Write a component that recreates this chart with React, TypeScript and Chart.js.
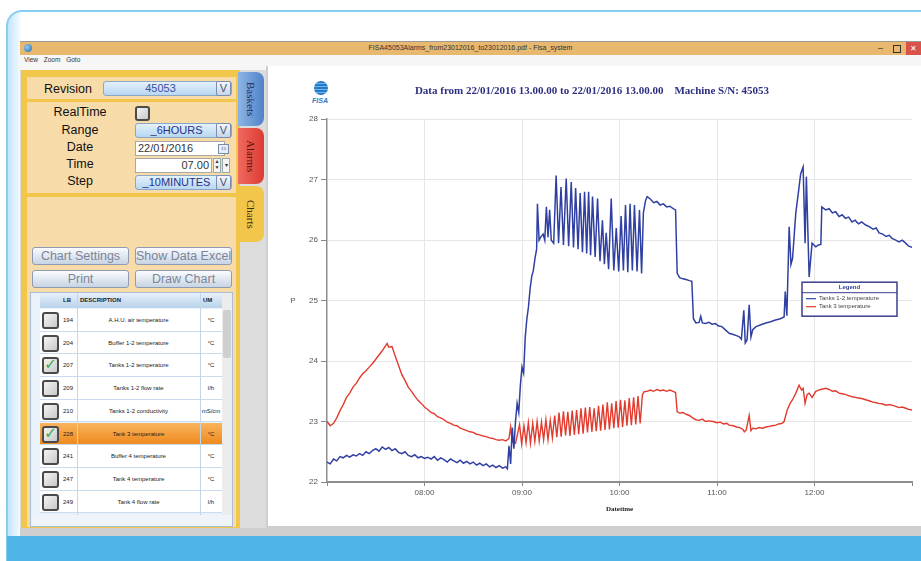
import React, { useEffect, useRef } from "react";
import { Chart, registerables } from "chart.js";

Chart.register(...registerables);

// ---------- chart data ----------
const chartTitle = "Data from 22/01/2016 13.00.00 to 22/01/2016 13.00.00    Machine S/N: 45053";
const xAxisTitle = "Datetime";
const yAxisTitle = "P";
const hourTickMinutes = [0, 60, 120, 180, 240, 300, 360];
const hourTickLabels = ["", "08:00", "09:00", "10:00", "11:00", "12:00", ""];
const yMin = 22;
const yMax = 28;
const seriesNames = ["Tanks 1-2 temperature", "Tank 3 temperature"];
const seriesColors = ["#3040a2", "#e23b2e"];

// minutes after 07:00
const tanks12Minutes = [
  0, 2, 4, 6, 8, 10, 12, 14, 16, 18, 20, 22, 24, 26, 28, 30, 32, 34, 36, 38, 40, 42, 44, 46, 48, 50,
  52, 54, 56, 58, 60, 62, 64, 66, 68, 70, 72, 74, 76, 78, 80, 82, 84, 86, 88, 90, 92, 94, 96, 98, 100,
  102, 104, 106, 108, 110,
  111, 112, 113, 114, 115, 116, 117, 118, 119, 120, 121, 122, 123, 124, 125, 126, 127, 128, 129, 129.5,
  130.5, 131.5, 133, 134, 135, 136, 137, 138, 139.5, 141, 142.5, 144, 145.5, 147.2, 148.7, 150.3, 151.7,
  153, 154.5, 155.8, 157.2, 158.5, 159.8, 161, 162.2, 163.4, 165, 166.5, 168, 169.5, 170.7, 171.8, 173.3,
  174.9, 176.5, 178, 179.5, 181, 182.4, 183.7, 185.1, 186.5, 187.9, 189.2, 190.8, 192.3, 193.6, 194.7,
  196, 197, 199, 201, 203, 205, 207, 209, 211, 213, 214.5, 215.5, 217, 219, 221, 223, 224.5, 225.5, 227,
  229, 230, 231, 233, 235, 237, 239, 241, 243, 245, 247.5, 250, 252, 253.7, 255, 256.5, 257.4, 258.5,
  259.8, 260.9, 262, 264, 267, 270, 273, 276, 279, 281.3, 282, 283, 284.4, 285.5, 286.5, 288.5, 290,
  291.5, 293, 294.2, 295, 296.7, 298.5, 300.8, 302.5, 303.9, 304.5, 306.9, 309, 311, 313, 315.1, 317,
  319, 321, 323.1, 325, 327, 329, 331.5, 334, 336, 338, 339.7, 342, 344, 346, 347.7, 350, 352, 354,
  356.1, 358, 360,
];
const tanks12Values = [
  22.33, 22.30, 22.38, 22.35, 22.42, 22.40, 22.44, 22.41, 22.45, 22.43, 22.47, 22.44, 22.50, 22.47,
  22.52, 22.55, 22.51, 22.58, 22.54, 22.57, 22.52, 22.55, 22.49, 22.47, 22.50, 22.44, 22.42, 22.45,
  22.40, 22.42, 22.39, 22.41, 22.38, 22.42, 22.36, 22.40, 22.37, 22.33, 22.38, 22.35, 22.32, 22.36,
  22.31, 22.34, 22.30, 22.33, 22.28, 22.31, 22.27, 22.30, 22.25, 22.28, 22.24, 22.27, 22.23, 22.25,
  22.22, 22.60, 22.30, 22.90, 22.55, 23.00, 23.30, 23.15, 23.60, 23.90, 23.80, 24.40, 24.70, 24.90,
  25.20, 25.40, 25.50, 25.70, 25.85, 26.60,
  26.00, 26.05, 26.10, 26.00, 26.55, 26.05, 26.50, 26.00, 25.95, 27.07, 25.95, 26.88, 25.92, 27.02,
  25.90, 26.96, 25.88, 26.86, 25.85, 26.78, 25.80, 26.80, 25.78, 26.80, 25.75, 26.72, 25.72, 26.69,
  25.65, 26.33, 25.60, 26.12, 25.52, 26.69, 25.50, 26.20, 25.48, 26.40, 25.50, 26.58, 25.47, 26.60,
  25.50, 26.58, 25.48, 26.50, 25.45, 26.45,
  26.65, 26.72, 26.68, 26.62, 26.64, 26.58, 26.60, 26.55, 26.56, 26.52, 26.50, 25.45, 25.38, 25.36,
  25.35, 25.33, 25.32, 24.70, 24.63,
  24.64, 24.74, 24.63, 24.62, 24.64, 24.61, 24.62, 24.58, 24.57, 24.52, 24.46, 24.44, 24.42, 24.40,
  24.36, 24.84, 24.30, 24.35,
  24.93, 24.40, 24.52, 24.57, 24.60, 24.63, 24.65, 24.68, 24.70, 24.73, 25.15, 24.75, 26.22, 25.60,
  25.70, 26.45, 26.77,
  27.10, 27.21, 25.95, 27.05, 25.39, 25.95, 25.89, 25.92, 25.93, 26.55, 26.50, 26.52, 26.45, 26.47,
  26.39, 26.42,
  26.36, 26.38, 26.30, 26.33, 26.27, 26.30, 26.25, 26.22, 26.18, 26.20, 26.12, 26.10, 26.06, 26.08,
  26.03, 26.00, 25.97, 26.00,
  25.95, 25.90, 25.88,
];

const tank3Minutes = [
  0, 2, 4, 6, 8, 10, 12, 14, 16, 18, 20, 22, 24, 26, 28, 30, 32, 34, 36, 37, 38, 40, 42, 44, 46, 48, 50,
  52, 54, 56, 58, 60, 62, 64, 66, 68, 70, 72, 74, 76, 78, 80, 82, 84, 86, 88, 90, 92, 94, 96, 98, 100,
  102, 104, 106, 108, 110, 112, 113, 114, 116,
  118.5, 119.8, 121.2, 122.5, 123.9, 125.2, 126.6, 127.9, 129.3, 130.6, 132, 133.3, 134.7, 136, 137.4,
  138.7, 140.1, 141.4, 142.8, 144.1, 145.5, 146.8, 148.2, 149.5, 150.9, 152.2, 153.6, 154.9, 156.3,
  157.6, 159, 160.3, 161.7, 163, 164.4, 165.7, 167.1, 168.4, 169.8, 171.1, 172.5, 173.8, 175.2, 176.5,
  177.9, 179.2, 180.6, 181.9, 183.3, 184.6, 186, 187.3, 188.7, 190, 191.4, 192.7, 194.1,
  195, 197, 199, 201, 203, 205, 207, 209, 211, 213, 214.5, 215.5, 217, 219, 221, 223, 225, 227, 229,
  231, 233, 235, 237.8, 240, 242, 244, 246, 247.5, 250, 252, 254, 256, 256.8, 258, 259.8, 260.9, 262,
  263.9, 266, 268, 270.1, 272, 274, 276.2, 278, 280, 281.3, 283.2, 285, 286.5, 288.5, 290.5, 292, 293,
  294.2, 295.5, 296.7, 298.5, 300.8, 302.5, 304, 306.9, 309, 311, 313, 315.1, 317, 319, 321, 323.1, 325,
  327, 329, 331.5, 334, 336, 338, 339.7, 342, 344, 346, 347.7, 350, 352, 354, 356.1, 358, 360,
];
const tank3Values = [
  23.00, 22.93, 22.97, 23.06, 23.18, 23.28, 23.40, 23.47, 23.57, 23.63, 23.72, 23.79, 23.84, 23.90,
  23.96, 24.03, 24.10, 24.17, 24.25, 24.29, 24.23, 24.24, 24.08, 23.93, 23.78, 23.68, 23.57,
  23.50, 23.42, 23.35, 23.30, 23.24, 23.20, 23.15, 23.13, 23.08, 23.06, 23.03, 22.99, 22.97, 22.94,
  22.93, 22.89, 22.87, 22.85, 22.83, 22.82, 22.79, 22.78, 22.76, 22.75, 22.73,
  22.72, 22.70, 22.69, 22.70, 22.68, 22.72, 22.91, 22.66, 22.64,
  22.95, 22.63, 22.93, 22.65, 22.98, 22.64, 22.97, 22.67, 23.00, 22.68, 22.99, 22.70, 23.03, 22.70,
  23.02, 22.73, 23.10, 22.74, 23.15, 22.75, 23.17, 22.77, 23.16, 22.76, 23.18, 22.78, 23.19, 22.79,
  23.22, 22.80, 23.23, 22.82, 23.24, 22.83, 23.22, 22.84, 23.26, 22.85, 23.28, 22.86, 23.32, 22.87,
  23.30, 22.89, 23.34, 22.90, 23.36, 22.91, 23.35, 22.93, 23.39, 22.94, 23.40, 22.95, 23.42, 22.97,
  23.44,
  23.49, 23.50, 23.52, 23.50, 23.53, 23.51, 23.52, 23.50, 23.52, 23.50, 23.48, 23.16, 23.14, 23.15,
  23.12, 23.10, 23.06, 23.03, 23.02,
  23.04, 23.00, 23.01, 23.00, 22.98, 22.99, 22.96, 22.97, 22.94, 22.93, 22.91, 22.90, 22.87, 22.83,
  22.86, 23.10, 22.85, 22.89,
  22.88, 22.90, 22.89, 22.91, 22.92, 22.93, 22.94, 22.96, 22.97, 23.00, 23.19, 23.30, 23.36, 23.47,
  23.60, 23.52, 23.55,
  23.30, 23.45, 23.47, 23.40, 23.50, 23.52, 23.53, 23.55, 23.53, 23.50, 23.51, 23.47, 23.46, 23.45,
  23.43, 23.41, 23.40,
  23.39, 23.38, 23.36, 23.34, 23.32, 23.31, 23.30, 23.29, 23.27, 23.28, 23.27, 23.25, 23.23, 23.24,
  23.22, 23.20, 23.19,
];

// ---------- side panel data ----------
const paramLabels = ["RealTime", "Range", "Date", "Time", "Step"];
const revisionValue = "45053";
const rangeValue = "_6HOURS";
const dateValue = "22/01/2016";
const timeValue = "07.00";
const stepValue = "_10MINUTES";
const buttonLabels = ["Chart Settings", "Show Data Excel", "Print", "Draw Chart"];
const rowCodes = ["194", "204", "207", "209", "210", "228", "241", "247", "249"];
const rowDescriptions = [
  "A.H.U. air temperature",
  "Buffer 1-2 temperature",
  "Tanks 1-2 temperature",
  "Tanks 1-2 flow rate",
  "Tanks 1-2 conductivity",
  "Tank 3 temperature",
  "Buffer 4 temperature",
  "Tank 4 temperature",
  "Tank 4 flow rate",
];
const rowUnits = ["°C", "°C", "°C", "l/h", "mS/cm", "°C", "°C", "°C", "l/h"];
const rowChecked = [false, false, true, false, false, true, false, false, false];
const selectedRow = 5;
const windowTitle = "FISA45053Alarms_from23012016_to23012016.pdf - Fisa_system";
const menuItems = ["View", "Zoom", "Goto"];
const tabNames = ["Baskets", "Alarms", "Charts"];

const legendBoxPlugin = {
  id: "legendBox",
  afterDatasetsDraw(chart: any) {
    const { ctx, chartArea } = chart;
    const x = chartArea.right - 110;
    const y = chartArea.top + 163;
    const w = 95;
    const h = 34;
    ctx.save();
    ctx.fillStyle = "#ffffff";
    ctx.fillRect(x, y, w, h);
    ctx.strokeStyle = "#3b3f8f";
    ctx.lineWidth = 1.5;
    ctx.strokeRect(x, y, w, h);
    ctx.font = 'bold 6px "Liberation Sans", Arial, sans-serif';
    ctx.fillStyle = "#2f3f9a";
    ctx.textAlign = "center";
    ctx.textBaseline = "middle";
    ctx.fillText("Legend", x + w / 2, y + 5.5);
    ctx.lineWidth = 1;
    ctx.beginPath();
    ctx.moveTo(x, y + 10.5);
    ctx.lineTo(x + w, y + 10.5);
    ctx.stroke();
    chart.data.datasets.forEach((ds: any, i: number) => {
      const ly = y + 16.5 + i * 8;
      ctx.strokeStyle = ds.borderColor;
      ctx.lineWidth = 1.2;
      ctx.beginPath();
      ctx.moveTo(x + 4, ly);
      ctx.lineTo(x + 14, ly);
      ctx.stroke();
      ctx.fillStyle = "#444";
      ctx.textAlign = "left";
      ctx.font = '6px "Liberation Sans", Arial, sans-serif';
      ctx.fillText(ds.label, x + 17, ly);
    });
    // upright y-axis title
    ctx.fillStyle = "#555";
    ctx.font = '8px "Liberation Sans", Arial, sans-serif';
    ctx.textAlign = "center";
    ctx.fillText(yAxisTitle, chartArea.left - 34, (chartArea.top + chartArea.bottom) / 2);
    ctx.restore();
  },
};

function ChartCanvas() {
  const ref = useRef<HTMLCanvasElement>(null);
  useEffect(() => {
    const canvas = ref.current!;
    const chart = new Chart(canvas, {
      type: "line",
      data: {
        datasets: [
          {
            label: seriesNames[0],
            data: tanks12Minutes.map((m, i) => ({ x: m, y: tanks12Values[i] })),
            borderColor: seriesColors[0],
            backgroundColor: seriesColors[0],
            borderWidth: 1.5,
            pointRadius: 0,
            tension: 0,
          },
          {
            label: seriesNames[1],
            data: tank3Minutes.map((m, i) => ({ x: m, y: tank3Values[i] })),
            borderColor: seriesColors[1],
            backgroundColor: seriesColors[1],
            borderWidth: 1.4,
            pointRadius: 0,
            tension: 0,
          },
        ],
      },
      options: {
        animation: false,
        responsive: false,
        maintainAspectRatio: false,
        layout: { padding: { left: 0, right: 9, top: 0, bottom: 0 } },
        plugins: {
          legend: { display: false },
          tooltip: { enabled: false },
          title: {
            display: true,
            text: chartTitle,
            color: "#2d2f80",
            font: { family: '"Liberation Serif", serif', size: 11, weight: "bold" },
            padding: { top: 13, bottom: 21 },
          },
        },
        scales: {
          x: {
            type: "linear",
            min: hourTickMinutes[0],
            max: hourTickMinutes[hourTickMinutes.length - 1],
            afterBuildTicks: (s: any) => {
              s.ticks = hourTickMinutes.map((v) => ({ value: v }));
            },
            afterFit: (s: any) => {
              s.height = 45;
            },
            ticks: {
              autoSkip: false,
              maxRotation: 0,
              padding: 2,
              color: "#555",
              font: { family: '"Liberation Sans", Arial, sans-serif', size: 8 },
              callback: (v: any) => {
                const idx = hourTickMinutes.indexOf(Number(v));
                return idx >= 0 ? hourTickLabels[idx] : "";
              },
            },
            grid: {
              color: (c: any) =>
                c.tick && (c.tick.value === 0 || c.tick.value === 360) ? "rgba(0,0,0,0)" : "#e6e6e6",
              tickLength: 4,
              tickColor: "#888",
            },
            border: { display: true, color: "#8e8e8e", width: 2 },
            title: {
              display: true,
              text: xAxisTitle,
              color: "#222",
              font: { family: '"Liberation Serif", serif', size: 7, weight: "bold" },
              padding: { top: 4, bottom: 14 },
            },
          },
          y: {
            min: yMin,
            max: yMax,
            afterFit: (s: any) => {
              s.width = 55;
            },
            ticks: {
              stepSize: 1,
              padding: 3,
              color: "#555",
              font: { family: '"Liberation Sans", Arial, sans-serif', size: 8 },
            },
            grid: { color: "#e6e6e6", tickLength: 6, tickColor: "#888" },
            border: { display: true, color: "#8e8e8e", width: 1.5 },
          },
        },
      } as any,
      plugins: [legendBoxPlugin],
    });
    return () => chart.destroy();
  }, []);
  return (
    <canvas
      ref={ref}
      width={649}
      height={455}
      style={{ position: "absolute", left: 272, top: 72, width: 649, height: 455 }}
    />
  );
}

const abs = (s: React.CSSProperties): React.CSSProperties => ({ position: "absolute", ...s });
const sans = '"Liberation Sans", Arial, sans-serif';

function Combo({ left, top, width, text, color }: any) {
  return (
    <div
      style={abs({
        left,
        top,
        width,
        height: 15,
        borderRadius: 3,
        border: "1px solid #8ca6c6",
        background: "linear-gradient(#e4f1fb, #b7d7f1)",
        boxSizing: "border-box",
      })}
    >
      <div
        style={abs({
          left: 0,
          top: 0,
          width: width - 16,
          height: 13,
          lineHeight: "13px",
          textAlign: "center",
          fontSize: 11,
          color,
          fontFamily: sans,
        })}
      >
        {text}
      </div>
      <div
        style={abs({
          right: 0,
          top: -1,
          width: 15,
          height: 15,
          boxSizing: "border-box",
          border: "1px solid #7b8db0",
          borderRadius: 2,
          background: "linear-gradient(#f4f8fc, #c5d5e8)",
          textAlign: "center",
          lineHeight: "13px",
          fontSize: 11,
          color: "#4a5170",
          fontFamily: sans,
        })}
      >
        V
      </div>
    </div>
  );
}

function CheckBox({ left, top, size, checked }: any) {
  return (
    <div
      style={abs({
        left,
        top,
        width: size,
        height: size,
        boxSizing: "border-box",
        border: "2px solid #4a4a4a",
        borderRadius: 3,
        background: "linear-gradient(135deg, #f4f4f4, #c9c9c9)",
      })}
    >
      {checked ? (
        <div
          style={abs({
            left: 0,
            top: -4,
            width: size - 4,
            textAlign: "center",
            fontSize: 15,
            fontWeight: "bold",
            color: "#3aa844",
            fontFamily: '"DejaVu Sans", sans-serif',
          })}
        >
          ✓
        </div>
      ) : null}
    </div>
  );
}

function Button({ left, top, text }: any) {
  return (
    <div
      style={abs({
        left,
        top,
        width: 97,
        height: 18,
        boxSizing: "border-box",
        border: "1px solid #8e9bb1",
        borderRadius: 3,
        background: "linear-gradient(#fafcff, #c7d4e3)",
        textAlign: "center",
        lineHeight: "16px",
        fontSize: 12.5,
        color: "#7d8597",
        fontFamily: sans,
        whiteSpace: "nowrap",
        overflow: "hidden",
      })}
    >
      {text}
    </div>
  );
}

function LeftPanel() {
  const labelY = [113, 131, 148, 165, 182];
  const rowTop = 309;
  const rowH = 22.7;
  return (
    <>
      <div style={abs({ left: 21, top: 70, width: 219, height: 460, background: "#f2c64a" })} />
      {/* Revision */}
      <div style={abs({ left: 27, top: 77, width: 209, height: 22, background: "#f7dba9" })} />
      <div style={abs({ left: 44, top: 82, fontSize: 12.5, fontFamily: sans, color: "#111" })}>Revision</div>
      <Combo left={103} top={81} width={129} text={revisionValue} color="#3c4ea0" />
      {/* params */}
      <div style={abs({ left: 27, top: 102, width: 209, height: 91, background: "#f7dba9" })} />
      {paramLabels.map((t, i) => (
        <div
          key={t}
          style={abs({
            left: 40,
            width: 80,
            top: labelY[i] - 8,
            textAlign: "center",
            fontSize: 12.5,
            fontFamily: sans,
            color: "#111",
          })}
        >
          {t}
        </div>
      ))}
      <CheckBox left={135} top={106} size={15} checked={false} />
      <Combo left={135} top={123} width={97} text={rangeValue} color="#26328a" />
      <div
        style={abs({
          left: 135,
          top: 141,
          width: 90,
          height: 15,
          boxSizing: "border-box",
          border: "1px solid #a8a8a8",
          background: "#fff",
          fontSize: 11,
          lineHeight: "13px",
          paddingLeft: 2,
          fontFamily: sans,
          color: "#333",
        })}
      >
        {dateValue}
      </div>
      <div
        style={abs({
          left: 218,
          top: 144,
          width: 9,
          height: 8,
          border: "1px solid #7a8aa8",
          background: "#e8eef6",
          fontSize: 5,
          lineHeight: "8px",
          textAlign: "center",
          color: "#334",
        })}
      >
        15
      </div>
      <div
        style={abs({
          left: 135,
          top: 158,
          width: 77,
          height: 15,
          boxSizing: "border-box",
          border: "1px solid #a8a8a8",
          background: "#fff",
          fontSize: 11,
          lineHeight: "13px",
          textAlign: "right",
          paddingRight: 2,
          fontFamily: sans,
          color: "#333",
        })}
      >
        {timeValue}
      </div>
      <div
        style={abs({
          left: 213,
          top: 158,
          width: 8,
          height: 15,
          boxSizing: "border-box",
          border: "1px solid #9aa",
          background: "#f4f4f4",
          fontSize: 5,
          lineHeight: "6px",
          textAlign: "center",
          color: "#333",
        })}
      >
        ▲<br />▼
      </div>
      <div
        style={abs({
          left: 222,
          top: 158,
          width: 8,
          height: 15,
          boxSizing: "border-box",
          border: "1px solid #9aa",
          background: "#f4f4f4",
          fontSize: 6,
          lineHeight: "13px",
          textAlign: "center",
          color: "#333",
        })}
      >
        ▾
      </div>
      <Combo left={135} top={175} width={97} text={stepValue} color="#26328a" />
      {/* charts box */}
      <div style={abs({ left: 27, top: 197, width: 209, height: 330, background: "#f7dba9" })} />
      <Button left={32} top={247} text={buttonLabels[0]} />
      <Button left={135} top={247} text={buttonLabels[1]} />
      <Button left={32} top={270} text={buttonLabels[2]} />
      <Button left={135} top={270} text={buttonLabels[3]} />
      {/* table */}
      <div
        style={abs({
          left: 30,
          top: 292,
          width: 203,
          height: 235,
          background: "#e9f2fa",
          border: "1px solid #a9bed3",
          boxSizing: "border-box",
        })}
      />
      <div style={abs({ left: 40, top: 293, width: 182, height: 15, background: "linear-gradient(#e6f0fa, #b9d2ea)" })} />
      <div style={abs({ left: 63, top: 297, fontSize: 6, fontWeight: "bold", fontFamily: sans, color: "#222" })}>LB</div>
      <div style={abs({ left: 80, top: 297, fontSize: 6, fontWeight: "bold", fontFamily: sans, color: "#222" })}>
        DESCRIPTION
      </div>
      <div style={abs({ left: 203, top: 297, fontSize: 6, fontWeight: "bold", fontFamily: sans, color: "#222" })}>UM</div>
      {rowCodes.map((code, i) => {
        const top = rowTop + i * rowH;
        const sel = i === selectedRow;
        return (
          <React.Fragment key={code}>
            <div
              style={abs({
                left: 40,
                top,
                width: 182,
                height: rowH,
                background: sel ? "linear-gradient(#f9b45c, #ef8a1f)" : "#ffffff",
                borderBottom: "1px solid #c9dbee",
                boxSizing: "border-box",
              })}
            />
            <CheckBox left={42} top={top + 3} size={17} checked={rowChecked[i]} />
            <div style={abs({ left: 63, top: top + 8, fontSize: 6, fontFamily: sans, color: "#222" })}>{code}</div>
            <div
              style={abs({
                left: 78,
                width: 121,
                top: top + 8,
                textAlign: "center",
                fontSize: 6,
                fontFamily: sans,
                color: "#222",
              })}
            >
              {rowDescriptions[i]}
            </div>
            <div
              style={abs({
                left: 200,
                width: 22,
                top: top + 8,
                textAlign: "center",
                fontSize: 6,
                fontFamily: sans,
                color: "#222",
                whiteSpace: "nowrap",
              })}
            >
              {rowUnits[i]}
            </div>
          </React.Fragment>
        );
      })}
      <div style={abs({ left: 77, top: 293, width: 1, height: 222, background: "#c3d6ea" })} />
      <div style={abs({ left: 200, top: 293, width: 1, height: 222, background: "#c3d6ea" })} />
      <div style={abs({ left: 222, top: 293, width: 10, height: 222, background: "#ececec" })} />
      <div style={abs({ left: 223, top: 310, width: 8, height: 48, background: "#cfcfcf", borderRadius: 2 })} />
      <div style={abs({ left: 31, top: 515, width: 201, height: 11, background: "#eef4fa" })} />
    </>
  );
}

function Tabs() {
  const tabs = [
    { top: 72, h: 54, bg: "linear-gradient(to right, #8db5e6, #4f82c8)", color: "#1f2a55" },
    { top: 128, h: 56, bg: "linear-gradient(to right, #ef6a60, #dc3b31)", color: "#5a0f0a" },
    { top: 186, h: 56, bg: "#f2c64a", color: "#3b2f10" },
  ];
  return (
    <>
      <div style={abs({ left: 240, top: 70, width: 26, height: 460, background: "#dcdcdc" })} />
      {tabs.map((t, i) => (
        <div
          key={i}
          style={abs({
            left: 238,
            top: t.top,
            width: 26,
            height: t.h,
            background: t.bg,
            borderTopRightRadius: 8,
            borderBottomRightRadius: 8,
            writingMode: "vertical-rl",
            textAlign: "center",
            lineHeight: "26px",
            fontSize: 11,
            fontFamily: '"Liberation Serif", serif',
            color: t.color,
          })}
        >
          {tabNames[i]}
        </div>
      ))}
    </>
  );
}

export default function App() {
  useEffect(() => {
    document.body.style.margin = "0";
  }, []);
  return (
    <div style={{ position: "relative", width: 921, height: 561, overflow: "hidden", background: "#fff" }}>
      {/* outer frame */}
      <div
        style={abs({
          left: 6,
          top: 10,
          width: 960,
          height: 600,
          border: "2px solid #86cff2",
          borderRadius: 16,
          background: "linear-gradient(to right, #c4e6f7 0px, #e6f4fc 9px, #ffffff 14px)",
        })}
      />
      {/* window */}
      <div style={abs({ left: 20, top: 41, width: 901, height: 495, background: "#dedede", borderTop: "1px solid #9a9a9a" })} />
      <div style={abs({ left: 20, top: 42, width: 901, height: 13, background: "#e8b86e" })} />
      <div
        style={abs({
          left: 24,
          top: 44,
          width: 8,
          height: 8,
          borderRadius: 4,
          background: "radial-gradient(circle at 35% 35%, #8fc8ee, #2a6fb3)",
        })}
      />
      <div
        style={abs({
          left: 20,
          width: 901,
          top: 44,
          textAlign: "center",
          fontSize: 7,
          fontFamily: sans,
          color: "#333",
        })}
      >
        {windowTitle}
      </div>
      <div style={abs({ left: 878, top: 43, fontSize: 9, fontFamily: sans, color: "#333" })}>–</div>
      <div style={abs({ left: 893, top: 45, width: 6, height: 6, border: "1px solid #333" })} />
      <div
        style={abs({
          left: 906,
          top: 42,
          width: 15,
          height: 13,
          background: "#d9534a",
          color: "#fff",
          fontSize: 8,
          textAlign: "center",
          lineHeight: "13px",
          fontFamily: sans,
        })}
      >
        ✕
      </div>
      <div style={abs({ left: 20, top: 55, width: 901, height: 15, background: "#f6f6f6" })} />
      <div style={abs({ left: 24, top: 56, fontSize: 6.5, fontFamily: sans, color: "#333", wordSpacing: 4 })}>
        {menuItems.join(" ")}
      </div>
      <LeftPanel />
      <Tabs />
      {/* chart panel */}
      <div
        style={abs({
          left: 266,
          top: 66,
          width: 660,
          height: 462,
          background: "#ffffff",
          borderLeft: "2px solid #cfcfcf",
          borderBottom: "2px solid #cfcfcf",
          boxSizing: "border-box",
        })}
      />
      {/* logo */}
      <div
        style={abs({
          left: 314,
          top: 81,
          width: 14,
          height: 14,
          borderRadius: 7,
          background:
            "repeating-linear-gradient(#2a79c4 0px, #2a79c4 2px, #6bb6ea 2px, #6bb6ea 3px)",
        })}
      />
      <div
        style={abs({
          left: 312,
          top: 97,
          fontSize: 7,
          fontStyle: "italic",
          fontWeight: "bold",
          fontFamily: sans,
          color: "#2a79c4",
        })}
      >
        FISA
      </div>
      <ChartCanvas />
      {/* bottom band */}
      <div style={abs({ left: 20, top: 528, width: 901, height: 8, background: "#cfcfcf" })} />
      <div style={abs({ left: 7, top: 536, width: 930, height: 40, background: "#4fb4e8", borderBottomLeftRadius: 14 })} />
    </div>
  );
}
